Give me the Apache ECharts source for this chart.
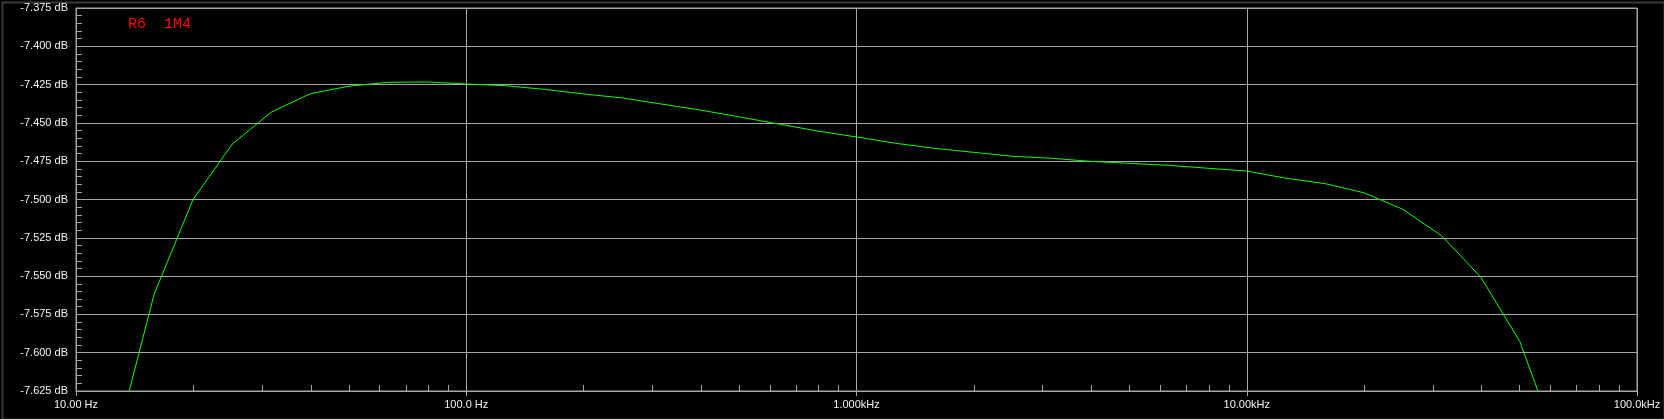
<!DOCTYPE html>
<html>
<head>
<meta charset="utf-8">
<script src="https://cdn.jsdelivr.net/npm/echarts@6/dist/echarts.min.js"></script>
<style>
html,body{margin:0;padding:0;background:#000;}
#chart{width:1664px;height:419px;}
</style>
</head>
<body>
<div id="chart"></div>
<script>
// Frequencies (Hz) of the simulated points
const freqHz = [10, 12.59, 15.85, 19.95, 25.12, 31.62, 39.81, 50.12, 63.10, 79.43,
  100, 125.9, 158.5, 199.5, 251.2, 316.2, 398.1, 501.2, 631.0, 794.3,
  1000, 1259, 1585, 1995, 2512, 3162, 3981, 5012, 6310, 7943,
  10000, 12589, 15849, 19953, 25119, 31623, 39811, 50119, 63096, 79433];
// Gain (dB)
const gainDb = [-7.780, -7.661, -7.562, -7.500, -7.464, -7.443, -7.431, -7.426, -7.4235, -7.4233,
  -7.4246, -7.4257, -7.4281, -7.4311, -7.4337, -7.4377, -7.4416, -7.4461, -7.4507, -7.4553,
  -7.4592, -7.4633, -7.4666, -7.4692, -7.4718, -7.4731, -7.4751, -7.4764, -7.4777, -7.4796,
  -7.4814, -7.4861, -7.4896, -7.4956, -7.5064, -7.5238, -7.5508, -7.5928, -7.6627, -7.780];
// Tick labels
const xTickValues = [10, 100, 1000, 10000, 100000];
const xTickLabels = ['10.00 Hz', '100.0 Hz', '1.000kHz', '10.00kHz', '100.0kHz'];
const xMinorTicks = [20,30,40,50,60,70,80,90, 200,300,400,500,600,700,800,900,
  2000,3000,4000,5000,6000,7000,8000,9000, 20000,30000,40000,50000,60000,70000,80000,90000];
const yMin = -7.625, yMax = -7.375, yStep = 0.025;
const traceName = 'R6  1M4';

const gridColor = '#a6a6a6';
const textColor = '#f2f2f2';
const font = 'Liberation Sans, Arial, sans-serif';

const chart = echarts.init(document.getElementById('chart'), null, {renderer: 'canvas'});
const data = freqHz.map((f, i) => [f, gainDb[i]]);

function xLabel(v) {
  let best = 0, bd = Infinity;
  xTickValues.forEach((t, i) => { const d = Math.abs(Math.log10(v) - Math.log10(t)); if (d < bd) { bd = d; best = i; } });
  return bd < 0.01 ? xTickLabels[best] : '';
}

chart.setOption({
  backgroundColor: '#000',
  animation: false,
  grid: {left: 76, top: 8, right: 27, bottom: 28, show: true, borderColor: gridColor, borderWidth: 1, backgroundColor: '#000'},
  xAxis: [{
    type: 'log', logBase: 10, min: 10, max: 100000,
    position: 'bottom',
    axisLine: {show: true, lineStyle: {color: gridColor, width: 1}},
    axisTick: {show: true, inside: false, length: 5, lineStyle: {color: gridColor}},
    axisLabel: {color: textColor, fontSize: 11, fontFamily: font, margin: 8, formatter: xLabel, showMinLabel: true, showMaxLabel: true, hideOverlap: false},
    splitLine: {show: true, lineStyle: {color: gridColor, width: 1}},
    minorTick: {show: false}
  }, {
    type: 'log', logBase: 10, min: 10, max: 100000,
    position: 'bottom',
    axisLine: {show: false},
    axisTick: {show: true, inside: true, length: 6, customValues: xMinorTicks, lineStyle: {color: gridColor}},
    axisLabel: {show: false},
    splitLine: {show: false}
  }],
  yAxis: {
    type: 'value', min: yMin, max: yMax, interval: yStep,
    axisLine: {show: true, lineStyle: {color: gridColor}},
    axisTick: {show: true, inside: true, length: 6, lineStyle: {color: gridColor}},
    minorTick: {show: true, splitNumber: 5, length: 6, lineStyle: {color: gridColor}},
    axisLabel: {color: textColor, fontSize: 11, fontFamily: font, margin: 8, formatter: v => v.toFixed(3) + ' dB'},
    splitLine: {show: true, lineStyle: {color: gridColor, width: 1}}
  },
  graphic: [{
    type: 'text', left: 128, top: 17,
    style: {text: traceName, fill: '#ff0000', font: '15px "Liberation Mono", "Courier New", monospace'}
  }, {
    type: 'rect', left: 0, top: 0, silent: true,
    shape: {x: 1, y: 1, width: 1662, height: 417},
    style: {fill: 'none', stroke: '#3a3a3a', lineWidth: 2}
  }],
  series: [{
    type: 'line', xAxisIndex: 0, yAxisIndex: 0,
    data: data, showSymbol: false, symbol: 'none', smooth: false,
    lineStyle: {color: '#00ff00', width: 1}, clip: true
  }]
});
</script>
</body>
</html>
